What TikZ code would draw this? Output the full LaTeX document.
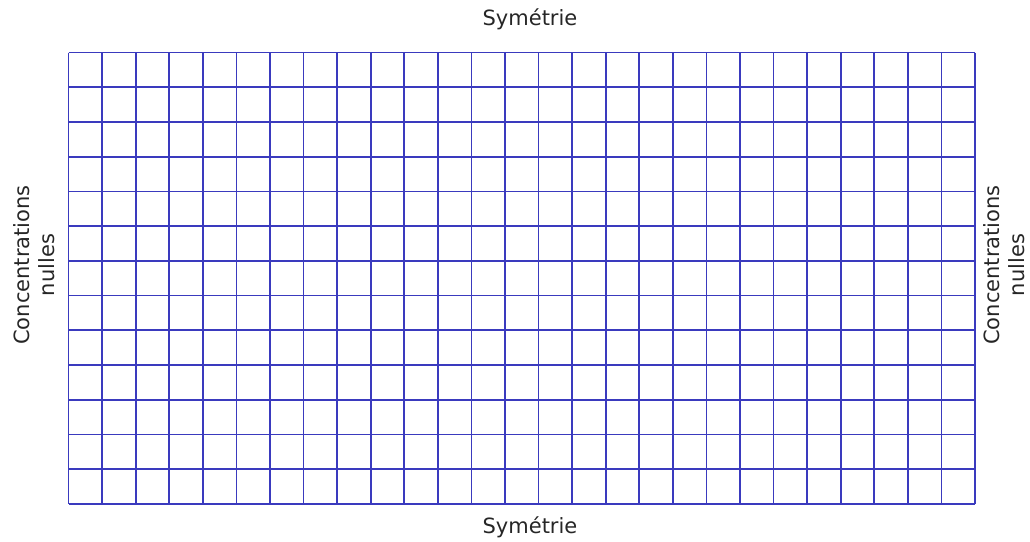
\documentclass[tikz,border=0pt]{standalone}
\usepackage{fontspec}
\setmainfont{DejaVu Sans}
\usetikzlibrary{calc, positioning}
\definecolor{gridblue}{RGB}{58,58,190}
\tikzset{
  gridline/.style={draw=gridblue, line width=1.7pt},
  bordertext/.style={font=\fontsize{21}{25}\selectfont, text=black!85, inner sep=0pt, align=center}
}
\begin{document}
\begin{tikzpicture}[x=1pt,y=-1pt]
        \useasboundingbox (0,0) rectangle (1030,541);
        \coordinate (nw) at (68.5,52.5) {};
        \coordinate (se) at (975,504) {};

        % vertical lines
        \foreach \i in {0,...,27} {
          \draw[gridline] ($(nw)+(\i*33.574,0)$) -- ($(nw)+(\i*33.574,451.5)$);
        }
        % horizontal lines
        \foreach \j in {0,...,13} {
          \draw[gridline] ($(nw)+(0,\j*34.73)$) -- ($(nw)+(906.5,\j*34.73)$);
        }

        \node[bordertext] (top) at (530,19) {Symétrie};
        \node[bordertext] (bottom) at (530,527) {Symétrie};
        \node[bordertext, rotate=90] (left) at (34,265) {Concentrations\\nulles};
        \node[bordertext, rotate=90] (right) at (1004,265) {Concentrations\\nulles};
    \end{tikzpicture}
\end{document}
